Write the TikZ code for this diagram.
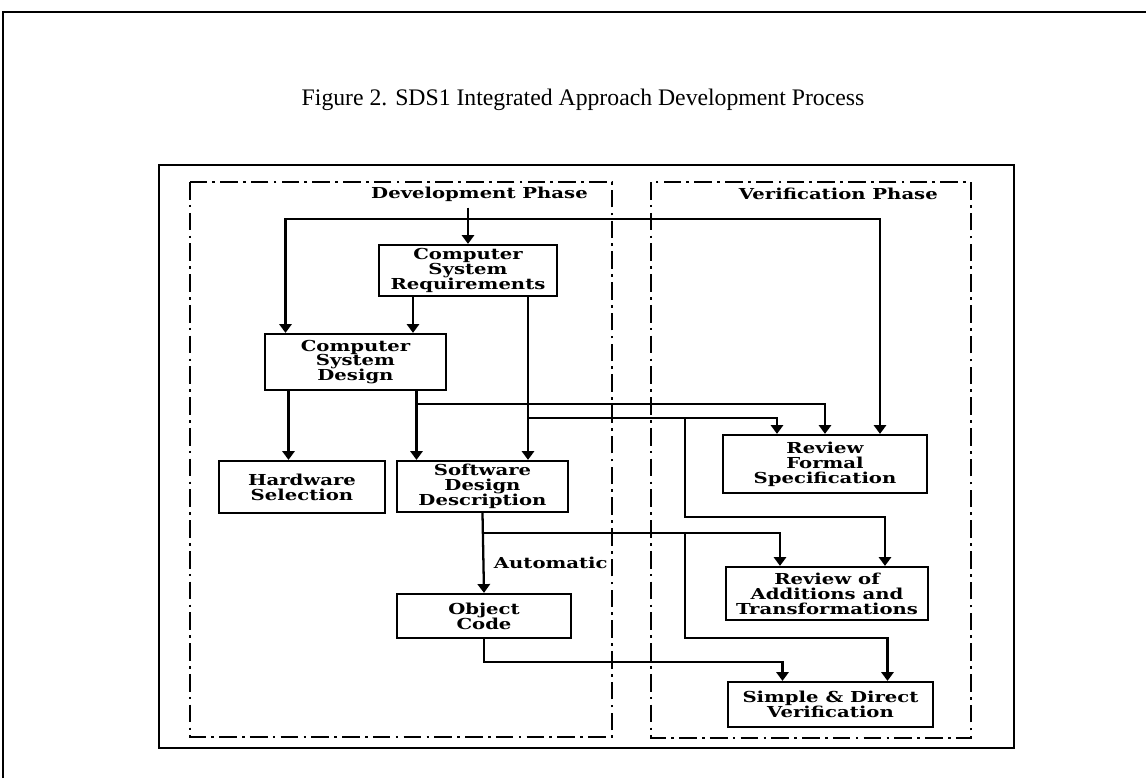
\documentclass[tikz,border=0pt]{standalone}
\usepackage{fontspec}
\setmainfont{Liberation Serif}
\newfontfamily\boxfont[FakeStretch=1.3]{DejaVu Serif}
\usetikzlibrary{arrows.meta,calc}

\tikzset{>={Triangle[width=7pt,length=5pt]}}

\begin{document}
\begin{tikzpicture}[x=0.02cm,y=-0.02cm,
  stage/.style={draw,line width=1.3pt,align=center,inner sep=1pt,
    font=\boxfont\bfseries\fontsize{8.6}{8.5}\selectfont},
  tag/.style={font=\boxfont\bfseries\fontsize{8.6}{8.5}\selectfont},
  phase/.style={line width=1.2pt,dash pattern=on 10pt off 3pt on 1.5pt off 3pt},
  flow/.style={line width=1.3pt,->}]
  \useasboundingbox (0,0) rectangle (1146,778);
  % page edge, frame and the two phases
  \draw[line width=1.1pt] (3,778) -- (3,12) -- (1146,12);
  \draw[line width=1.3pt] (159,165) rectangle (1014,748);
  \draw[phase] (190,182) rectangle (612,737);
  \draw[phase] (651,182) rectangle (971,738);
  \node[font=\fontsize{13.5}{16}\selectfont] (title) at (583,100)
    {Figure 2. SDS1 Integrated Approach Development Process};
  \node[tag,anchor=east] (devlabel) at (594,194) {Development Phase};
  \node[tag,anchor=east] (verlabel) at (944,194) {Verification Phase};

  \node[stage,minimum width=3.56cm,minimum height=1.02cm] (csr) at (468,270.5) {Computer\\System\\Requirements};
  \node[stage,minimum width=3.62cm,minimum height=1.12cm] (csd) at (355.5,362) {Computer\\System\\Design};
  \node[stage,minimum width=3.32cm,minimum height=1.04cm] (hws) at (302,487) {Hardware\\Selection};
  \node[stage,minimum width=3.42cm,minimum height=1.02cm] (sdd) at (482.5,486.5) {Software\\Design\\Description};
  \node[stage,minimum width=3.48cm,minimum height=0.88cm] (obj) at (484,616) {Object\\Code};
  \node[stage,minimum width=4.08cm,minimum height=1.16cm] (rfs) at (825,464) {Review\\Formal\\Specification};
  \node[stage,minimum width=4.04cm,minimum height=1.06cm] (rat) at (827,593.5) {Review of\\Additions and\\Transformations};
  \node[stage,minimum width=4.10cm,minimum height=0.90cm] (sdv) at (830.5,704.5) {Simple \& Direct\\Verification};

  % connectors
  \coordinate (bus) at (473,219);
  \draw[flow] (csr.north |- devlabel.south) -- (csr.north);
  \draw[line width=1.3pt,<->] ($(csd.north)+(-70,0)$) |- (bus) -| ($(rfs.north)+(55,0)$);
  \draw[flow] ($(csr.south)+(-55,0)$) coordinate (a1) -- (a1 |- csd.north);
  \draw[flow] ($(csr.south)+(60,0)$) coordinate (a2) -- (a2 |- sdd.north);
  \draw[flow] ($(csd.south)+(-67,0)$) coordinate (a3) -- (a3 |- hws.north);
  \draw[flow] ($(csd.south)+(61,0)$) coordinate (a4) -- (a4 |- sdd.north);
  \draw[flow] (a4 |- 0,404) -| (rfs.north);
  \draw[flow] (a2 |- 0,418) -| ($(rfs.north)+(-48,0)$);
  \coordinate (t1) at (685,418);
  \draw[flow] (t1) -- ++(0,99) -| ($(rat.north)+(58,0)$);
  \draw[flow] (sdd.south) -- node[tag,right=2pt,pos=0.62] {Automatic} (obj.north);
  \coordinate (t2) at (sdd.south |- 0,533);
  \draw[flow] (t2) -| ($(rat.north)+(-47,0)$);
  \draw[flow] (t2 -| t1) -- ++(0,105) -| ($(sdv.north)+(57,0)$);
  \draw[flow] (obj.south) -- ++(0,23) -| ($(sdv.north)+(-48,0)$);
\end{tikzpicture}
\end{document}
